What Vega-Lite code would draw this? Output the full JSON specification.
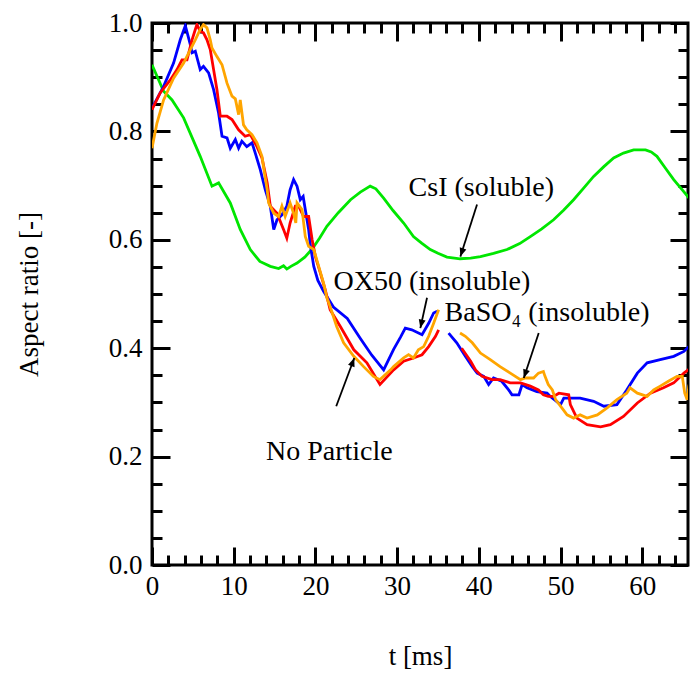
{
  "$schema": "https://vega.github.io/schema/vega-lite/v6.json",
  "width": 536,
  "height": 542,
  "autosize": {"type": "none"},
  "padding": {"left": 152, "top": 23, "right": 5, "bottom": 110},
  "background": "white",
  "config": {
    "view": {"stroke": "black", "strokeWidth": 3},
    "axis": {
      "domain": false, "grid": false, "ticks": true, "tickColor": "black", "tickWidth": 3, "labelFlush": false,
      "labelFont": "Liberation Serif", "labelFontSize": 27, "labelColor": "black",
      "titleFont": "Liberation Serif", "titleFontSize": 27, "titleFontWeight": "normal", "titleColor": "black"
    }
  },
  "resolve": {"axis": {"x": "independent", "y": "independent"}},
  "datasets": {
    "curves": [
      {"s":"CsI","g":1,"t":0,"v":0.923},{"s":"CsI","g":1,"t":1.42,"v":0.874},{"s":"CsI","g":1,"t":2.45,"v":0.858},{"s":"CsI","g":1,"t":3.87,"v":0.825},{"s":"CsI","g":1,"t":5.9,"v":0.754},{"s":"CsI","g":1,"t":7.34,"v":0.699},{"s":"CsI","g":1,"t":8.15,"v":0.705},{"s":"CsI","g":1,"t":9.58,"v":0.668},{"s":"CsI","g":1,"t":10.8,"v":0.619},{"s":"CsI","g":1,"t":12.03,"v":0.582},{"s":"CsI","g":1,"t":13.2,"v":0.56},{"s":"CsI","g":1,"t":14.48,"v":0.551},{"s":"CsI","g":1,"t":15.5,"v":0.547},{"s":"CsI","g":1,"t":16.1,"v":0.552},{"s":"CsI","g":1,"t":16.5,"v":0.546},{"s":"CsI","g":1,"t":17.0,"v":0.551},{"s":"CsI","g":1,"t":17.75,"v":0.557},{"s":"CsI","g":1,"t":18.7,"v":0.568},{"s":"CsI","g":1,"t":19.6,"v":0.583},{"s":"CsI","g":1,"t":20.5,"v":0.603},{"s":"CsI","g":1,"t":21.4,"v":0.625},{"s":"CsI","g":1,"t":22.8,"v":0.65},{"s":"CsI","g":1,"t":24.3,"v":0.674},{"s":"CsI","g":1,"t":25.5,"v":0.688},{"s":"CsI","g":1,"t":26.7,"v":0.699},{"s":"CsI","g":1,"t":27.4,"v":0.694},{"s":"CsI","g":1,"t":28.35,"v":0.677},{"s":"CsI","g":1,"t":29.5,"v":0.654},{"s":"CsI","g":1,"t":30.8,"v":0.631},{"s":"CsI","g":1,"t":32.0,"v":0.606},{"s":"CsI","g":1,"t":33.0,"v":0.594},{"s":"CsI","g":1,"t":34.06,"v":0.582},{"s":"CsI","g":1,"t":35.0,"v":0.575},{"s":"CsI","g":1,"t":36.1,"v":0.568},{"s":"CsI","g":1,"t":37.7,"v":0.565},{"s":"CsI","g":1,"t":39.0,"v":0.566},{"s":"CsI","g":1,"t":40.2,"v":0.569},{"s":"CsI","g":1,"t":41.8,"v":0.575},{"s":"CsI","g":1,"t":43.45,"v":0.582},{"s":"CsI","g":1,"t":45.0,"v":0.593},{"s":"CsI","g":1,"t":46.3,"v":0.606},{"s":"CsI","g":1,"t":47.7,"v":0.62},{"s":"CsI","g":1,"t":49.15,"v":0.637},{"s":"CsI","g":1,"t":50.4,"v":0.655},{"s":"CsI","g":1,"t":51.6,"v":0.674},{"s":"CsI","g":1,"t":52.8,"v":0.695},{"s":"CsI","g":1,"t":54.05,"v":0.717},{"s":"CsI","g":1,"t":55.3,"v":0.735},{"s":"CsI","g":1,"t":56.5,"v":0.751},{"s":"CsI","g":1,"t":57.7,"v":0.76},{"s":"CsI","g":1,"t":58.95,"v":0.766},{"s":"CsI","g":1,"t":60.4,"v":0.766},{"s":"CsI","g":1,"t":61.1,"v":0.762},{"s":"CsI","g":1,"t":61.8,"v":0.754},{"s":"CsI","g":1,"t":62.8,"v":0.733},{"s":"CsI","g":1,"t":63.85,"v":0.711},{"s":"CsI","g":1,"t":64.9,"v":0.692},{"s":"CsI","g":1,"t":65.9,"v":0.674},

      {"s":"OX50","g":1,"t":0,"v":0.843},{"s":"OX50","g":1,"t":1.42,"v":0.883},{"s":"OX50","g":1,"t":2.64,"v":0.926},{"s":"OX50","g":1,"t":3.46,"v":0.969},{"s":"OX50","g":1,"t":4.08,"v":0.995},{"s":"OX50","g":1,"t":4.69,"v":0.96},{"s":"OX50","g":1,"t":4.9,"v":0.945},{"s":"OX50","g":1,"t":5.3,"v":0.948},{"s":"OX50","g":1,"t":5.9,"v":0.914},{"s":"OX50","g":1,"t":6.3,"v":0.92},{"s":"OX50","g":1,"t":6.93,"v":0.908},{"s":"OX50","g":1,"t":7.54,"v":0.877},{"s":"OX50","g":1,"t":8.15,"v":0.834},{"s":"OX50","g":1,"t":8.57,"v":0.791},{"s":"OX50","g":1,"t":9.18,"v":0.788},{"s":"OX50","g":1,"t":9.58,"v":0.769},{"s":"OX50","g":1,"t":10.2,"v":0.785},{"s":"OX50","g":1,"t":10.6,"v":0.769},{"s":"OX50","g":1,"t":11.0,"v":0.782},{"s":"OX50","g":1,"t":11.6,"v":0.772},{"s":"OX50","g":1,"t":12.24,"v":0.779},{"s":"OX50","g":1,"t":12.64,"v":0.76},{"s":"OX50","g":1,"t":13.26,"v":0.729},{"s":"OX50","g":1,"t":13.87,"v":0.692},{"s":"OX50","g":1,"t":14.48,"v":0.662},{"s":"OX50","g":1,"t":14.9,"v":0.619},{"s":"OX50","g":1,"t":15.3,"v":0.637},{"s":"OX50","g":1,"t":15.9,"v":0.646},{"s":"OX50","g":1,"t":16.5,"v":0.662},{"s":"OX50","g":1,"t":16.9,"v":0.692},{"s":"OX50","g":1,"t":17.33,"v":0.711},{"s":"OX50","g":1,"t":17.75,"v":0.699},{"s":"OX50","g":1,"t":18.15,"v":0.674},{"s":"OX50","g":1,"t":18.5,"v":0.68},{"s":"OX50","g":1,"t":18.76,"v":0.656},{"s":"OX50","g":1,"t":19.17,"v":0.619},{"s":"OX50","g":1,"t":19.4,"v":0.588},{"s":"OX50","g":1,"t":19.8,"v":0.551},{"s":"OX50","g":1,"t":20.3,"v":0.525},{"s":"OX50","g":1,"t":21.0,"v":0.505},{"s":"OX50","g":1,"t":22.2,"v":0.476},{"s":"OX50","g":1,"t":23.9,"v":0.455},{"s":"OX50","g":1,"t":25.5,"v":0.418},{"s":"OX50","g":1,"t":26.9,"v":0.387},{"s":"OX50","g":1,"t":28.35,"v":0.36},{"s":"OX50","g":1,"t":29.57,"v":0.398},{"s":"OX50","g":1,"t":30.4,"v":0.42},{"s":"OX50","g":1,"t":31.0,"v":0.437},{"s":"OX50","g":1,"t":31.8,"v":0.434},{"s":"OX50","g":1,"t":33.05,"v":0.425},{"s":"OX50","g":1,"t":33.86,"v":0.446},{"s":"OX50","g":1,"t":34.47,"v":0.465},{"s":"OX50","g":1,"t":34.9,"v":0.468},
      {"s":"OX50","g":2,"t":36.3,"v":0.428},{"s":"OX50","g":2,"t":37.3,"v":0.41},{"s":"OX50","g":2,"t":38.35,"v":0.385},{"s":"OX50","g":2,"t":39.2,"v":0.366},{"s":"OX50","g":2,"t":39.8,"v":0.354},{"s":"OX50","g":2,"t":40.6,"v":0.348},{"s":"OX50","g":2,"t":41.2,"v":0.333},{"s":"OX50","g":2,"t":41.8,"v":0.345},{"s":"OX50","g":2,"t":42.8,"v":0.339},{"s":"OX50","g":2,"t":43.65,"v":0.323},{"s":"OX50","g":2,"t":44.06,"v":0.314},{"s":"OX50","g":2,"t":44.9,"v":0.314},{"s":"OX50","g":2,"t":45.3,"v":0.333},{"s":"OX50","g":2,"t":45.9,"v":0.327},{"s":"OX50","g":2,"t":47.1,"v":0.32},{"s":"OX50","g":2,"t":48.35,"v":0.317},{"s":"OX50","g":2,"t":48.75,"v":0.311},{"s":"OX50","g":2,"t":50.0,"v":0.296},{"s":"OX50","g":2,"t":50.4,"v":0.308},{"s":"OX50","g":2,"t":52.4,"v":0.308},{"s":"OX50","g":2,"t":54.05,"v":0.302},{"s":"OX50","g":2,"t":55.3,"v":0.293},{"s":"OX50","g":2,"t":56.9,"v":0.296},{"s":"OX50","g":2,"t":58.1,"v":0.323},{"s":"OX50","g":2,"t":59.4,"v":0.354},{"s":"OX50","g":2,"t":60.6,"v":0.373},{"s":"OX50","g":2,"t":62.2,"v":0.379},{"s":"OX50","g":2,"t":63.85,"v":0.385},{"s":"OX50","g":2,"t":65.1,"v":0.394},{"s":"OX50","g":2,"t":65.9,"v":0.406},

      {"s":"No Particle","g":1,"t":0,"v":0.84},{"s":"No Particle","g":1,"t":1.0,"v":0.871},{"s":"No Particle","g":1,"t":2.24,"v":0.895},{"s":"No Particle","g":1,"t":3.06,"v":0.914},{"s":"No Particle","g":1,"t":3.67,"v":0.932},{"s":"No Particle","g":1,"t":4.28,"v":0.932},{"s":"No Particle","g":1,"t":4.9,"v":0.969},{"s":"No Particle","g":1,"t":5.3,"v":0.988},{"s":"No Particle","g":1,"t":5.5,"v":0.997},{"s":"No Particle","g":1,"t":5.9,"v":0.985},{"s":"No Particle","g":1,"t":6.3,"v":0.982},{"s":"No Particle","g":1,"t":6.73,"v":0.969},{"s":"No Particle","g":1,"t":7.13,"v":0.951},{"s":"No Particle","g":1,"t":7.54,"v":0.914},{"s":"No Particle","g":1,"t":7.95,"v":0.877},{"s":"No Particle","g":1,"t":8.36,"v":0.828},{"s":"No Particle","g":1,"t":9.18,"v":0.828},{"s":"No Particle","g":1,"t":9.79,"v":0.822},{"s":"No Particle","g":1,"t":10.6,"v":0.803},{"s":"No Particle","g":1,"t":11.4,"v":0.791},{"s":"No Particle","g":1,"t":12.03,"v":0.794},{"s":"No Particle","g":1,"t":12.85,"v":0.772},{"s":"No Particle","g":1,"t":13.46,"v":0.751},{"s":"No Particle","g":1,"t":14.1,"v":0.705},{"s":"No Particle","g":1,"t":14.48,"v":0.662},{"s":"No Particle","g":1,"t":15.3,"v":0.649},{"s":"No Particle","g":1,"t":16.1,"v":0.619},{"s":"No Particle","g":1,"t":16.5,"v":0.603},{"s":"No Particle","g":1,"t":16.9,"v":0.631},{"s":"No Particle","g":1,"t":17.54,"v":0.662},{"s":"No Particle","g":1,"t":17.95,"v":0.662},{"s":"No Particle","g":1,"t":18.56,"v":0.643},{"s":"No Particle","g":1,"t":19.17,"v":0.643},{"s":"No Particle","g":1,"t":19.6,"v":0.6},{"s":"No Particle","g":1,"t":20.0,"v":0.569},{"s":"No Particle","g":1,"t":20.6,"v":0.539},{"s":"No Particle","g":1,"t":21.2,"v":0.508},{"s":"No Particle","g":1,"t":21.8,"v":0.471},{"s":"No Particle","g":1,"t":23.05,"v":0.44},{"s":"No Particle","g":1,"t":24.7,"v":0.397},{"s":"No Particle","g":1,"t":26.3,"v":0.373},{"s":"No Particle","g":1,"t":27.9,"v":0.333},{"s":"No Particle","g":1,"t":29.57,"v":0.36},{"s":"No Particle","g":1,"t":30.8,"v":0.376},{"s":"No Particle","g":1,"t":32.0,"v":0.382},{"s":"No Particle","g":1,"t":33.05,"v":0.388},{"s":"No Particle","g":1,"t":33.86,"v":0.403},{"s":"No Particle","g":1,"t":34.7,"v":0.422},{"s":"No Particle","g":1,"t":35.08,"v":0.434},
      {"s":"No Particle","g":2,"t":37.9,"v":0.4},{"s":"No Particle","g":2,"t":39.0,"v":0.376},{"s":"No Particle","g":2,"t":39.6,"v":0.36},{"s":"No Particle","g":2,"t":40.4,"v":0.348},{"s":"No Particle","g":2,"t":41.6,"v":0.342},{"s":"No Particle","g":2,"t":42.6,"v":0.342},{"s":"No Particle","g":2,"t":43.85,"v":0.336},{"s":"No Particle","g":2,"t":45.1,"v":0.336},{"s":"No Particle","g":2,"t":46.3,"v":0.33},{"s":"No Particle","g":2,"t":47.3,"v":0.323},{"s":"No Particle","g":2,"t":47.9,"v":0.314},{"s":"No Particle","g":2,"t":48.5,"v":0.311},{"s":"No Particle","g":2,"t":49.15,"v":0.311},{"s":"No Particle","g":2,"t":49.8,"v":0.317},{"s":"No Particle","g":2,"t":51.0,"v":0.314},{"s":"No Particle","g":2,"t":51.2,"v":0.296},{"s":"No Particle","g":2,"t":52.0,"v":0.271},{"s":"No Particle","g":2,"t":53.25,"v":0.259},{"s":"No Particle","g":2,"t":54.9,"v":0.255},{"s":"No Particle","g":2,"t":56.1,"v":0.259},{"s":"No Particle","g":2,"t":57.7,"v":0.274},{"s":"No Particle","g":2,"t":59.4,"v":0.299},{"s":"No Particle","g":2,"t":61.0,"v":0.317},{"s":"No Particle","g":2,"t":62.6,"v":0.327},{"s":"No Particle","g":2,"t":63.85,"v":0.336},{"s":"No Particle","g":2,"t":65.1,"v":0.354},{"s":"No Particle","g":2,"t":65.9,"v":0.363},

      {"s":"BaSO4","g":1,"t":0,"v":0.769},{"s":"BaSO4","g":1,"t":0.6,"v":0.815},{"s":"BaSO4","g":1,"t":1.42,"v":0.858},{"s":"BaSO4","g":1,"t":2.64,"v":0.898},{"s":"BaSO4","g":1,"t":3.87,"v":0.926},{"s":"BaSO4","g":1,"t":4.69,"v":0.951},{"s":"BaSO4","g":1,"t":5.3,"v":0.969},{"s":"BaSO4","g":1,"t":5.9,"v":0.988},{"s":"BaSO4","g":1,"t":6.3,"v":0.997},{"s":"BaSO4","g":1,"t":6.73,"v":0.991},{"s":"BaSO4","g":1,"t":7.13,"v":0.969},{"s":"BaSO4","g":1,"t":7.34,"v":0.954},{"s":"BaSO4","g":1,"t":7.95,"v":0.938},{"s":"BaSO4","g":1,"t":8.57,"v":0.923},{"s":"BaSO4","g":1,"t":9.18,"v":0.889},{"s":"BaSO4","g":1,"t":9.79,"v":0.865},{"s":"BaSO4","g":1,"t":10.2,"v":0.86},{"s":"BaSO4","g":1,"t":10.6,"v":0.831},{"s":"BaSO4","g":1,"t":10.8,"v":0.858},{"s":"BaSO4","g":1,"t":11.2,"v":0.812},{"s":"BaSO4","g":1,"t":11.6,"v":0.803},{"s":"BaSO4","g":1,"t":12.24,"v":0.794},{"s":"BaSO4","g":1,"t":12.85,"v":0.779},{"s":"BaSO4","g":1,"t":13.46,"v":0.754},{"s":"BaSO4","g":1,"t":13.8,"v":0.72},{"s":"BaSO4","g":1,"t":14.1,"v":0.692},{"s":"BaSO4","g":1,"t":14.27,"v":0.668},{"s":"BaSO4","g":1,"t":14.9,"v":0.649},{"s":"BaSO4","g":1,"t":15.5,"v":0.643},{"s":"BaSO4","g":1,"t":15.9,"v":0.662},{"s":"BaSO4","g":1,"t":16.3,"v":0.643},{"s":"BaSO4","g":1,"t":16.9,"v":0.668},{"s":"BaSO4","g":1,"t":17.33,"v":0.649},{"s":"BaSO4","g":1,"t":17.6,"v":0.631},{"s":"BaSO4","g":1,"t":17.75,"v":0.668},{"s":"BaSO4","g":1,"t":18.36,"v":0.656},{"s":"BaSO4","g":1,"t":18.76,"v":0.606},{"s":"BaSO4","g":1,"t":19.17,"v":0.588},{"s":"BaSO4","g":1,"t":19.8,"v":0.582},{"s":"BaSO4","g":1,"t":20.4,"v":0.551},{"s":"BaSO4","g":1,"t":21.0,"v":0.52},{"s":"BaSO4","g":1,"t":21.4,"v":0.493},{"s":"BaSO4","g":1,"t":21.8,"v":0.477},{"s":"BaSO4","g":1,"t":22.6,"v":0.44},{"s":"BaSO4","g":1,"t":23.45,"v":0.41},{"s":"BaSO4","g":1,"t":24.7,"v":0.385},{"s":"BaSO4","g":1,"t":25.9,"v":0.366},{"s":"BaSO4","g":1,"t":27.1,"v":0.348},{"s":"BaSO4","g":1,"t":27.9,"v":0.342},{"s":"BaSO4","g":1,"t":29.2,"v":0.36},{"s":"BaSO4","g":1,"t":29.57,"v":0.366},{"s":"BaSO4","g":1,"t":30.8,"v":0.382},{"s":"BaSO4","g":1,"t":31.4,"v":0.388},{"s":"BaSO4","g":1,"t":32.0,"v":0.382},{"s":"BaSO4","g":1,"t":32.6,"v":0.397},{"s":"BaSO4","g":1,"t":33.25,"v":0.403},{"s":"BaSO4","g":1,"t":33.86,"v":0.422},{"s":"BaSO4","g":1,"t":34.47,"v":0.446},{"s":"BaSO4","g":1,"t":35.08,"v":0.471},
      {"s":"BaSO4","g":2,"t":37.7,"v":0.428},{"s":"BaSO4","g":2,"t":38.35,"v":0.422},{"s":"BaSO4","g":2,"t":39.2,"v":0.41},{"s":"BaSO4","g":2,"t":40.2,"v":0.391},{"s":"BaSO4","g":2,"t":41.4,"v":0.379},{"s":"BaSO4","g":2,"t":42.6,"v":0.366},{"s":"BaSO4","g":2,"t":43.85,"v":0.354},{"s":"BaSO4","g":2,"t":45.1,"v":0.342},{"s":"BaSO4","g":2,"t":45.7,"v":0.345},{"s":"BaSO4","g":2,"t":46.7,"v":0.345},{"s":"BaSO4","g":2,"t":47.3,"v":0.354},{"s":"BaSO4","g":2,"t":47.9,"v":0.357},{"s":"BaSO4","g":2,"t":48.1,"v":0.348},{"s":"BaSO4","g":2,"t":48.5,"v":0.333},{"s":"BaSO4","g":2,"t":49.0,"v":0.323},{"s":"BaSO4","g":2,"t":49.4,"v":0.305},{"s":"BaSO4","g":2,"t":50.0,"v":0.293},{"s":"BaSO4","g":2,"t":50.8,"v":0.277},{"s":"BaSO4","g":2,"t":51.6,"v":0.271},{"s":"BaSO4","g":2,"t":52.4,"v":0.277},{"s":"BaSO4","g":2,"t":53.25,"v":0.271},{"s":"BaSO4","g":2,"t":54.5,"v":0.277},{"s":"BaSO4","g":2,"t":55.7,"v":0.29},{"s":"BaSO4","g":2,"t":56.9,"v":0.305},{"s":"BaSO4","g":2,"t":58.1,"v":0.317},{"s":"BaSO4","g":2,"t":58.5,"v":0.327},{"s":"BaSO4","g":2,"t":59.4,"v":0.317},{"s":"BaSO4","g":2,"t":60.6,"v":0.311},{"s":"BaSO4","g":2,"t":61.4,"v":0.323},{"s":"BaSO4","g":2,"t":62.2,"v":0.33},{"s":"BaSO4","g":2,"t":63.2,"v":0.339},{"s":"BaSO4","g":2,"t":64.25,"v":0.348},{"s":"BaSO4","g":2,"t":64.9,"v":0.348},{"s":"BaSO4","g":2,"t":65.2,"v":0.317},{"s":"BaSO4","g":2,"t":65.5,"v":0.305},{"s":"BaSO4","g":2,"t":65.7,"v":0.33},{"s":"BaSO4","g":2,"t":65.9,"v":0.342}
    ],
    "notes": [
      {"label": "CsI (soluble)", "tx": 40.3, "ty": 0.696, "ax": 39.78, "ay": 0.665, "bx": 37.74, "by": 0.569},
      {"label": "OX50 (insoluble)", "tx": 34.25, "ty": 0.523, "ax": 33.66, "ay": 0.493, "bx": 32.84, "by": 0.437},
      {"label": "BaSO₄ (insoluble)", "tx": 48.35, "ty": 0.465, "ax": 47.33, "ay": 0.428, "bx": 45.5, "by": 0.345},
      {"label": "No Particle", "tx": 21.7, "ty": 0.209, "ax": 22.55, "ay": 0.293, "bx": 24.76, "by": 0.382}
    ]
  },
  "layer": [
    {
      "data": {"name": "curves"},
      "mark": {"type": "line", "strokeWidth": 2.8, "clip": true},
      "encoding": {
        "x": {"field": "t", "type": "quantitative", "scale": {"domain": [0, 65.6], "nice": false, "zero": false},
              "axis": {"orient": "bottom", "values": [0, 10, 20, 30, 40, 50, 60], "format": "d", "offset": -18, "tickSize": 18, "labelPadding": 8, "title": "t [ms]", "titlePadding": 44}},
        "y": {"field": "v", "type": "quantitative", "scale": {"domain": [0, 1], "nice": false},
              "axis": {"orient": "left", "values": [0, 0.2, 0.4, 0.6, 0.8, 1.0], "format": ".1f", "offset": -18, "tickSize": 18, "labelPadding": 10, "title": "Aspect ratio [-]", "titlePadding": 65}},
        "color": {"field": "s", "type": "nominal", "legend": null,
                  "scale": {"domain": ["CsI", "OX50", "No Particle", "BaSO4"], "range": ["#00e600", "#0000ff", "#ff0000", "#ffa500"]}},
        "detail": {"field": "g", "type": "nominal"}
      }
    },
    {
      "data": {"name": "notes"},
      "mark": {"type": "point", "opacity": 0},
      "encoding": {
        "x": {"field": "tx", "type": "quantitative", "scale": {"domain": [0, 65.6], "nice": false, "zero": false},
              "axis": {"orient": "bottom", "values": [2,4,6,8,12,14,16,18,22,24,26,28,32,34,36,38,42,44,46,48,52,54,56,58,62,64], "offset": -10, "tickSize": 10, "labels": false, "title": null}},
        "y": {"field": "ty", "type": "quantitative", "scale": {"domain": [0, 1], "nice": false},
              "axis": {"orient": "left", "values": [0.05,0.1,0.15,0.25,0.3,0.35,0.45,0.5,0.55,0.65,0.7,0.75,0.85,0.9,0.95], "offset": -10, "tickSize": 10, "labels": false, "title": null}}
      }
    },
    {
      "data": {"name": "notes"},
      "mark": {"type": "point", "opacity": 0},
      "encoding": {
        "x": {"field": "tx", "type": "quantitative", "scale": {"domain": [0, 65.6], "nice": false, "zero": false},
              "axis": {"orient": "top", "values": [0, 10, 20, 30, 40, 50, 60], "offset": -18, "tickSize": 18, "labels": false, "title": null}},
        "y": {"field": "ty", "type": "quantitative", "scale": {"domain": [0, 1], "nice": false},
              "axis": {"orient": "right", "values": [0, 0.2, 0.4, 0.6, 0.8, 1.0], "offset": -18, "tickSize": 18, "labels": false, "title": null}}
      }
    },
    {
      "data": {"name": "notes"},
      "mark": {"type": "point", "opacity": 0},
      "encoding": {
        "x": {"field": "tx", "type": "quantitative", "scale": {"domain": [0, 65.6], "nice": false, "zero": false},
              "axis": {"orient": "top", "values": [2,4,6,8,12,14,16,18,22,24,26,28,32,34,36,38,42,44,46,48,52,54,56,58,62,64], "offset": -10, "tickSize": 10, "labels": false, "title": null}},
        "y": {"field": "ty", "type": "quantitative", "scale": {"domain": [0, 1], "nice": false},
              "axis": {"orient": "right", "values": [0.05,0.1,0.15,0.25,0.3,0.35,0.45,0.5,0.55,0.65,0.7,0.75,0.85,0.9,0.95], "offset": -10, "tickSize": 10, "labels": false, "title": null}}
      }
    },
    {
      "data": {"name": "notes"},
      "mark": {"type": "text", "font": "Liberation Serif", "fontSize": 28, "align": "center", "baseline": "middle", "color": "black"},
      "encoding": {
        "x": {"field": "tx", "type": "quantitative", "axis": null},
        "y": {"field": "ty", "type": "quantitative", "axis": null},
        "text": {"field": "label", "type": "nominal"}
      }
    },
    {
      "data": {"name": "notes"},
      "mark": {"type": "rule", "strokeWidth": 1.8, "color": "black"},
      "encoding": {
        "x": {"field": "ax", "type": "quantitative", "axis": null},
        "y": {"field": "ay", "type": "quantitative", "axis": null},
        "x2": {"field": "bx"},
        "y2": {"field": "by"}
      }
    },
    {
      "data": {"name": "notes"},
      "transform": [{"filter": "datum.label === 'CsI (soluble)'"}],
      "mark": {"type": "point", "shape": "M0,0L-0.4,1L0.4,1Z", "filled": true, "color": "black", "opacity": 1, "size": 300, "angle": 198},
      "encoding": {"x": {"field": "bx", "type": "quantitative", "axis": null}, "y": {"field": "by", "type": "quantitative", "axis": null}}
    },
    {
      "data": {"name": "notes"},
      "transform": [{"filter": "datum.label === 'OX50 (insoluble)'"}],
      "mark": {"type": "point", "shape": "M0,0L-0.4,1L0.4,1Z", "filled": true, "color": "black", "opacity": 1, "size": 300, "angle": 192.6},
      "encoding": {"x": {"field": "bx", "type": "quantitative", "axis": null}, "y": {"field": "by", "type": "quantitative", "axis": null}}
    },
    {
      "data": {"name": "notes"},
      "transform": [{"filter": "datum.label === 'BaSO₄ (insoluble)'"}],
      "mark": {"type": "point", "shape": "M0,0L-0.4,1L0.4,1Z", "filled": true, "color": "black", "opacity": 1, "size": 300, "angle": 198.4},
      "encoding": {"x": {"field": "bx", "type": "quantitative", "axis": null}, "y": {"field": "by", "type": "quantitative", "axis": null}}
    },
    {
      "data": {"name": "notes"},
      "transform": [{"filter": "datum.label === 'No Particle'"}],
      "mark": {"type": "point", "shape": "M0,0L-0.4,1L0.4,1Z", "filled": true, "color": "black", "opacity": 1, "size": 300, "angle": 20.4},
      "encoding": {"x": {"field": "bx", "type": "quantitative", "axis": null}, "y": {"field": "by", "type": "quantitative", "axis": null}}
    }
  ]
}
